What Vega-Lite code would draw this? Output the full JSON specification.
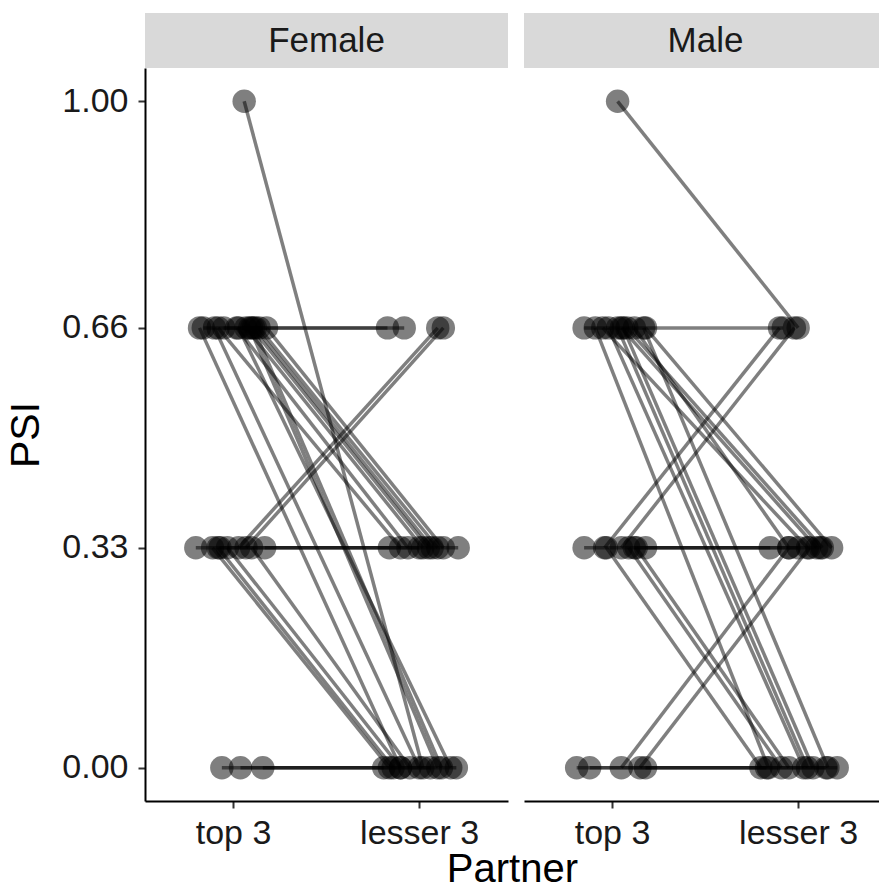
{
  "$schema": "https://vega.github.io/schema/vega-lite/v6.json",
  "background": "white",
  "padding": {"left": 5, "top": 13, "right": 0, "bottom": 0},
  "autosize": {"type": "pad"},
  "spacing": 16,
  "title": {
    "text": "Partner",
    "orient": "bottom",
    "anchor": "middle",
    "fontSize": 40,
    "fontWeight": "normal",
    "color": "black",
    "offset": 0,
    "dx": 70
  },
  "config": {
    "font": "Liberation Sans",
    "view": {"stroke": null},
    "axis": {
      "grid": false,
      "domainColor": "black",
      "domainWidth": 2,
      "tickColor": "#333333",
      "tickWidth": 2,
      "tickSize": 7,
      "labelColor": "#1a1a1a",
      "labelFontSize": 34,
      "titleFontSize": 41,
      "titleFontWeight": "normal",
      "titleColor": "black"
    }
  },
  "datasets": {
    "psi": [
      {"id": "F01", "sex": "Female", "partner": "top 3", "psi": 1, "jitter": 0.06},
      {"id": "F01", "sex": "Female", "partner": "lesser 3", "psi": 0, "jitter": 0.02},
      {"id": "F02", "sex": "Female", "partner": "top 3", "psi": 0.66, "jitter": -0.16},
      {"id": "F02", "sex": "Female", "partner": "lesser 3", "psi": 0.66, "jitter": -0.17},
      {"id": "F03", "sex": "Female", "partner": "top 3", "psi": 0.66, "jitter": -0.05},
      {"id": "F03", "sex": "Female", "partner": "lesser 3", "psi": 0.66, "jitter": -0.08},
      {"id": "F04", "sex": "Female", "partner": "top 3", "psi": 0.66, "jitter": 0.02},
      {"id": "F04", "sex": "Female", "partner": "lesser 3", "psi": 0.33, "jitter": -0.06},
      {"id": "F05", "sex": "Female", "partner": "top 3", "psi": 0.66, "jitter": 0.07},
      {"id": "F05", "sex": "Female", "partner": "lesser 3", "psi": 0.33, "jitter": 0.02},
      {"id": "F06", "sex": "Female", "partner": "top 3", "psi": 0.66, "jitter": 0.10},
      {"id": "F06", "sex": "Female", "partner": "lesser 3", "psi": 0.33, "jitter": 0.05},
      {"id": "F07", "sex": "Female", "partner": "top 3", "psi": 0.66, "jitter": 0.12},
      {"id": "F07", "sex": "Female", "partner": "lesser 3", "psi": 0.33, "jitter": 0.07},
      {"id": "F08", "sex": "Female", "partner": "top 3", "psi": 0.66, "jitter": 0.14},
      {"id": "F08", "sex": "Female", "partner": "lesser 3", "psi": 0.33, "jitter": 0.10},
      {"id": "F09", "sex": "Female", "partner": "top 3", "psi": 0.66, "jitter": 0.18},
      {"id": "F09", "sex": "Female", "partner": "lesser 3", "psi": 0.33, "jitter": 0.13},
      {"id": "F10", "sex": "Female", "partner": "top 3", "psi": 0.66, "jitter": -0.08},
      {"id": "F10", "sex": "Female", "partner": "lesser 3", "psi": 0.33, "jitter": -0.10},
      {"id": "F11", "sex": "Female", "partner": "top 3", "psi": 0.66, "jitter": -0.18},
      {"id": "F11", "sex": "Female", "partner": "lesser 3", "psi": 0, "jitter": -0.10},
      {"id": "F12", "sex": "Female", "partner": "top 3", "psi": 0.66, "jitter": -0.10},
      {"id": "F12", "sex": "Female", "partner": "lesser 3", "psi": 0, "jitter": 0.0},
      {"id": "F13", "sex": "Female", "partner": "top 3", "psi": 0.66, "jitter": 0.09},
      {"id": "F13", "sex": "Female", "partner": "lesser 3", "psi": 0, "jitter": 0.10},
      {"id": "F14", "sex": "Female", "partner": "top 3", "psi": 0.66, "jitter": 0.11},
      {"id": "F14", "sex": "Female", "partner": "lesser 3", "psi": 0, "jitter": 0.12},
      {"id": "F15", "sex": "Female", "partner": "top 3", "psi": 0.66, "jitter": 0.03},
      {"id": "F15", "sex": "Female", "partner": "lesser 3", "psi": 0, "jitter": 0.17},
      {"id": "F16", "sex": "Female", "partner": "top 3", "psi": 0.33, "jitter": 0.03},
      {"id": "F16", "sex": "Female", "partner": "lesser 3", "psi": 0.66, "jitter": 0.10},
      {"id": "F17", "sex": "Female", "partner": "top 3", "psi": 0.33, "jitter": 0.07},
      {"id": "F17", "sex": "Female", "partner": "lesser 3", "psi": 0.66, "jitter": 0.13},
      {"id": "F18", "sex": "Female", "partner": "top 3", "psi": 0.33, "jitter": -0.20},
      {"id": "F18", "sex": "Female", "partner": "lesser 3", "psi": 0.33, "jitter": -0.16},
      {"id": "F19", "sex": "Female", "partner": "top 3", "psi": 0.33, "jitter": -0.07},
      {"id": "F19", "sex": "Female", "partner": "lesser 3", "psi": 0.33, "jitter": 0.0},
      {"id": "F20", "sex": "Female", "partner": "top 3", "psi": 0.33, "jitter": 0.17},
      {"id": "F20", "sex": "Female", "partner": "lesser 3", "psi": 0.33, "jitter": 0.21},
      {"id": "F21", "sex": "Female", "partner": "top 3", "psi": 0.33, "jitter": -0.11},
      {"id": "F21", "sex": "Female", "partner": "lesser 3", "psi": 0, "jitter": -0.16},
      {"id": "F22", "sex": "Female", "partner": "top 3", "psi": 0.33, "jitter": -0.08},
      {"id": "F22", "sex": "Female", "partner": "lesser 3", "psi": 0, "jitter": -0.14},
      {"id": "F23", "sex": "Female", "partner": "top 3", "psi": 0.33, "jitter": -0.03},
      {"id": "F23", "sex": "Female", "partner": "lesser 3", "psi": 0, "jitter": -0.10},
      {"id": "F24", "sex": "Female", "partner": "top 3", "psi": 0.33, "jitter": 0.10},
      {"id": "F24", "sex": "Female", "partner": "lesser 3", "psi": 0, "jitter": -0.05},
      {"id": "F25", "sex": "Female", "partner": "top 3", "psi": 0, "jitter": -0.06},
      {"id": "F25", "sex": "Female", "partner": "lesser 3", "psi": 0, "jitter": -0.19},
      {"id": "F26", "sex": "Female", "partner": "top 3", "psi": 0, "jitter": 0.04},
      {"id": "F26", "sex": "Female", "partner": "lesser 3", "psi": 0, "jitter": 0.06},
      {"id": "F27", "sex": "Female", "partner": "top 3", "psi": 0, "jitter": 0.16},
      {"id": "F27", "sex": "Female", "partner": "lesser 3", "psi": 0, "jitter": 0.20},
      {"id": "M01", "sex": "Male", "partner": "top 3", "psi": 1, "jitter": 0.03},
      {"id": "M01", "sex": "Male", "partner": "lesser 3", "psi": 0.66, "jitter": 0.0},
      {"id": "M02", "sex": "Male", "partner": "top 3", "psi": 0.66, "jitter": -0.15},
      {"id": "M02", "sex": "Male", "partner": "lesser 3", "psi": 0.66, "jitter": -0.08},
      {"id": "M03", "sex": "Male", "partner": "top 3", "psi": 0.66, "jitter": -0.05},
      {"id": "M03", "sex": "Male", "partner": "lesser 3", "psi": 0.33, "jitter": 0.05},
      {"id": "M04", "sex": "Male", "partner": "top 3", "psi": 0.66, "jitter": 0.05},
      {"id": "M04", "sex": "Male", "partner": "lesser 3", "psi": 0.33, "jitter": 0.10},
      {"id": "M05", "sex": "Male", "partner": "top 3", "psi": 0.66, "jitter": 0.08},
      {"id": "M05", "sex": "Male", "partner": "lesser 3", "psi": 0.33, "jitter": 0.13},
      {"id": "M06", "sex": "Male", "partner": "top 3", "psi": 0.66, "jitter": 0.12},
      {"id": "M06", "sex": "Male", "partner": "lesser 3", "psi": 0.33, "jitter": -0.05},
      {"id": "M07", "sex": "Male", "partner": "top 3", "psi": 0.66, "jitter": 0.18},
      {"id": "M07", "sex": "Male", "partner": "lesser 3", "psi": 0.33, "jitter": 0.18},
      {"id": "M08", "sex": "Male", "partner": "top 3", "psi": 0.66, "jitter": -0.09},
      {"id": "M08", "sex": "Male", "partner": "lesser 3", "psi": 0, "jitter": -0.16},
      {"id": "M09", "sex": "Male", "partner": "top 3", "psi": 0.66, "jitter": -0.02},
      {"id": "M09", "sex": "Male", "partner": "lesser 3", "psi": 0, "jitter": 0.03},
      {"id": "M10", "sex": "Male", "partner": "top 3", "psi": 0.66, "jitter": 0.03},
      {"id": "M10", "sex": "Male", "partner": "lesser 3", "psi": 0, "jitter": 0.05},
      {"id": "M11", "sex": "Male", "partner": "top 3", "psi": 0.66, "jitter": 0.06},
      {"id": "M11", "sex": "Male", "partner": "lesser 3", "psi": 0, "jitter": 0.08},
      {"id": "M12", "sex": "Male", "partner": "top 3", "psi": 0.66, "jitter": 0.17},
      {"id": "M12", "sex": "Male", "partner": "lesser 3", "psi": 0, "jitter": 0.16},
      {"id": "M13", "sex": "Male", "partner": "top 3", "psi": 0.33, "jitter": -0.04},
      {"id": "M13", "sex": "Male", "partner": "lesser 3", "psi": 0.66, "jitter": -0.10},
      {"id": "M14", "sex": "Male", "partner": "top 3", "psi": 0.33, "jitter": 0.05},
      {"id": "M14", "sex": "Male", "partner": "lesser 3", "psi": 0.66, "jitter": -0.02},
      {"id": "M15", "sex": "Male", "partner": "top 3", "psi": 0.33, "jitter": -0.15},
      {"id": "M15", "sex": "Male", "partner": "lesser 3", "psi": 0.33, "jitter": -0.15},
      {"id": "M16", "sex": "Male", "partner": "top 3", "psi": 0.33, "jitter": 0.12},
      {"id": "M16", "sex": "Male", "partner": "lesser 3", "psi": 0.33, "jitter": 0.0},
      {"id": "M17", "sex": "Male", "partner": "top 3", "psi": 0.33, "jitter": 0.18},
      {"id": "M17", "sex": "Male", "partner": "lesser 3", "psi": 0.33, "jitter": 0.12},
      {"id": "M18", "sex": "Male", "partner": "top 3", "psi": 0.33, "jitter": -0.03},
      {"id": "M18", "sex": "Male", "partner": "lesser 3", "psi": 0, "jitter": -0.20},
      {"id": "M19", "sex": "Male", "partner": "top 3", "psi": 0.33, "jitter": 0.09},
      {"id": "M19", "sex": "Male", "partner": "lesser 3", "psi": 0, "jitter": -0.09},
      {"id": "M20", "sex": "Male", "partner": "top 3", "psi": 0.33, "jitter": 0.13},
      {"id": "M20", "sex": "Male", "partner": "lesser 3", "psi": 0, "jitter": -0.05},
      {"id": "M21", "sex": "Male", "partner": "top 3", "psi": 0, "jitter": 0.05},
      {"id": "M21", "sex": "Male", "partner": "lesser 3", "psi": 0.33, "jitter": -0.05},
      {"id": "M22", "sex": "Male", "partner": "top 3", "psi": 0, "jitter": 0.15},
      {"id": "M22", "sex": "Male", "partner": "lesser 3", "psi": 0.33, "jitter": 0.06},
      {"id": "M23", "sex": "Male", "partner": "top 3", "psi": 0, "jitter": -0.19},
      {"id": "M23", "sex": "Male", "partner": "lesser 3", "psi": 0, "jitter": -0.17},
      {"id": "M24", "sex": "Male", "partner": "top 3", "psi": 0, "jitter": -0.12},
      {"id": "M24", "sex": "Male", "partner": "lesser 3", "psi": 0, "jitter": 0.15},
      {"id": "M25", "sex": "Male", "partner": "top 3", "psi": 0, "jitter": 0.18},
      {"id": "M25", "sex": "Male", "partner": "lesser 3", "psi": 0, "jitter": 0.21}
    ]
  },
  "data": {"name": "psi"},
  "hconcat": [
    {
      "spacing": 0,
      "vconcat": [
        {
          "width": 363,
          "height": 55,
          "view": {"fill": "#d9d9d9", "stroke": null},
          "transform": [
            {"filter": "datum.sex === 'Female'"},
            {"aggregate": [{"op": "count", "as": "n"}], "groupby": ["sex"]}
          ],
          "mark": {"type": "text", "fontSize": 35, "color": "#1a1a1a", "align": "center", "baseline": "middle"},
          "encoding": {"text": {"field": "sex", "type": "nominal"}}
        },
        {
          "width": 363,
          "height": 733,
          "transform": [
            {"filter": "datum.sex === 'Female'"},
            {"calculate": "(datum.partner === 'top 3' ? 1 : 2) + datum.jitter", "as": "position"}
          ],
          "encoding": {
            "x": {
              "field": "position",
              "type": "quantitative",
              "scale": {"domain": [0.527, 2.4776], "nice": false, "zero": false},
              "axis": {
                "values": [1, 2],
                "labelExpr": "datum.value === 1 ? 'top 3' : 'lesser 3'",
                "labelPadding": 8,
                "title": null
              }
            },
            "y": {
              "field": "psi",
              "type": "quantitative",
              "scale": {"domain": [-0.05, 1.05], "nice": false, "zero": false},
              "axis": {
                "values": [0, 0.33, 0.66, 1],
                "format": ".2f",
                "labelPadding": 10,
                "title": "PSI",
                "titlePadding": 14
              }
            }
          },
          "layer": [
            {"mark": {"type": "circle", "size": 550, "opacity": 0.5, "color": "black"}},
            {
              "mark": {"type": "line", "color": "black", "opacity": 0.5, "strokeWidth": 3.5},
              "encoding": {"detail": {"field": "id", "type": "nominal"}}
            }
          ]
        }
      ]
    },
    {
      "spacing": 0,
      "vconcat": [
        {
          "width": 355,
          "height": 55,
          "view": {"fill": "#d9d9d9", "stroke": null},
          "transform": [
            {"filter": "datum.sex === 'Male'"},
            {"aggregate": [{"op": "count", "as": "n"}], "groupby": ["sex"]}
          ],
          "mark": {"type": "text", "fontSize": 35, "color": "#1a1a1a", "align": "center", "baseline": "middle", "dx": 4},
          "encoding": {"text": {"field": "sex", "type": "nominal"}}
        },
        {
          "width": 355,
          "height": 733,
          "transform": [
            {"filter": "datum.sex === 'Male'"},
            {"calculate": "(datum.partner === 'top 3' ? 1 : 2) + datum.jitter", "as": "position"}
          ],
          "encoding": {
            "x": {
              "field": "position",
              "type": "quantitative",
              "scale": {"domain": [0.527, 2.4346], "nice": false, "zero": false},
              "axis": {
                "values": [1, 2],
                "labelExpr": "datum.value === 1 ? 'top 3' : 'lesser 3'",
                "labelPadding": 8,
                "title": null
              }
            },
            "y": {
              "field": "psi",
              "type": "quantitative",
              "scale": {"domain": [-0.05, 1.05], "nice": false, "zero": false},
              "axis": null
            }
          },
          "layer": [
            {"mark": {"type": "circle", "size": 550, "opacity": 0.5, "color": "black"}},
            {
              "mark": {"type": "line", "color": "black", "opacity": 0.5, "strokeWidth": 3.5},
              "encoding": {"detail": {"field": "id", "type": "nominal"}}
            }
          ]
        }
      ]
    }
  ]
}
